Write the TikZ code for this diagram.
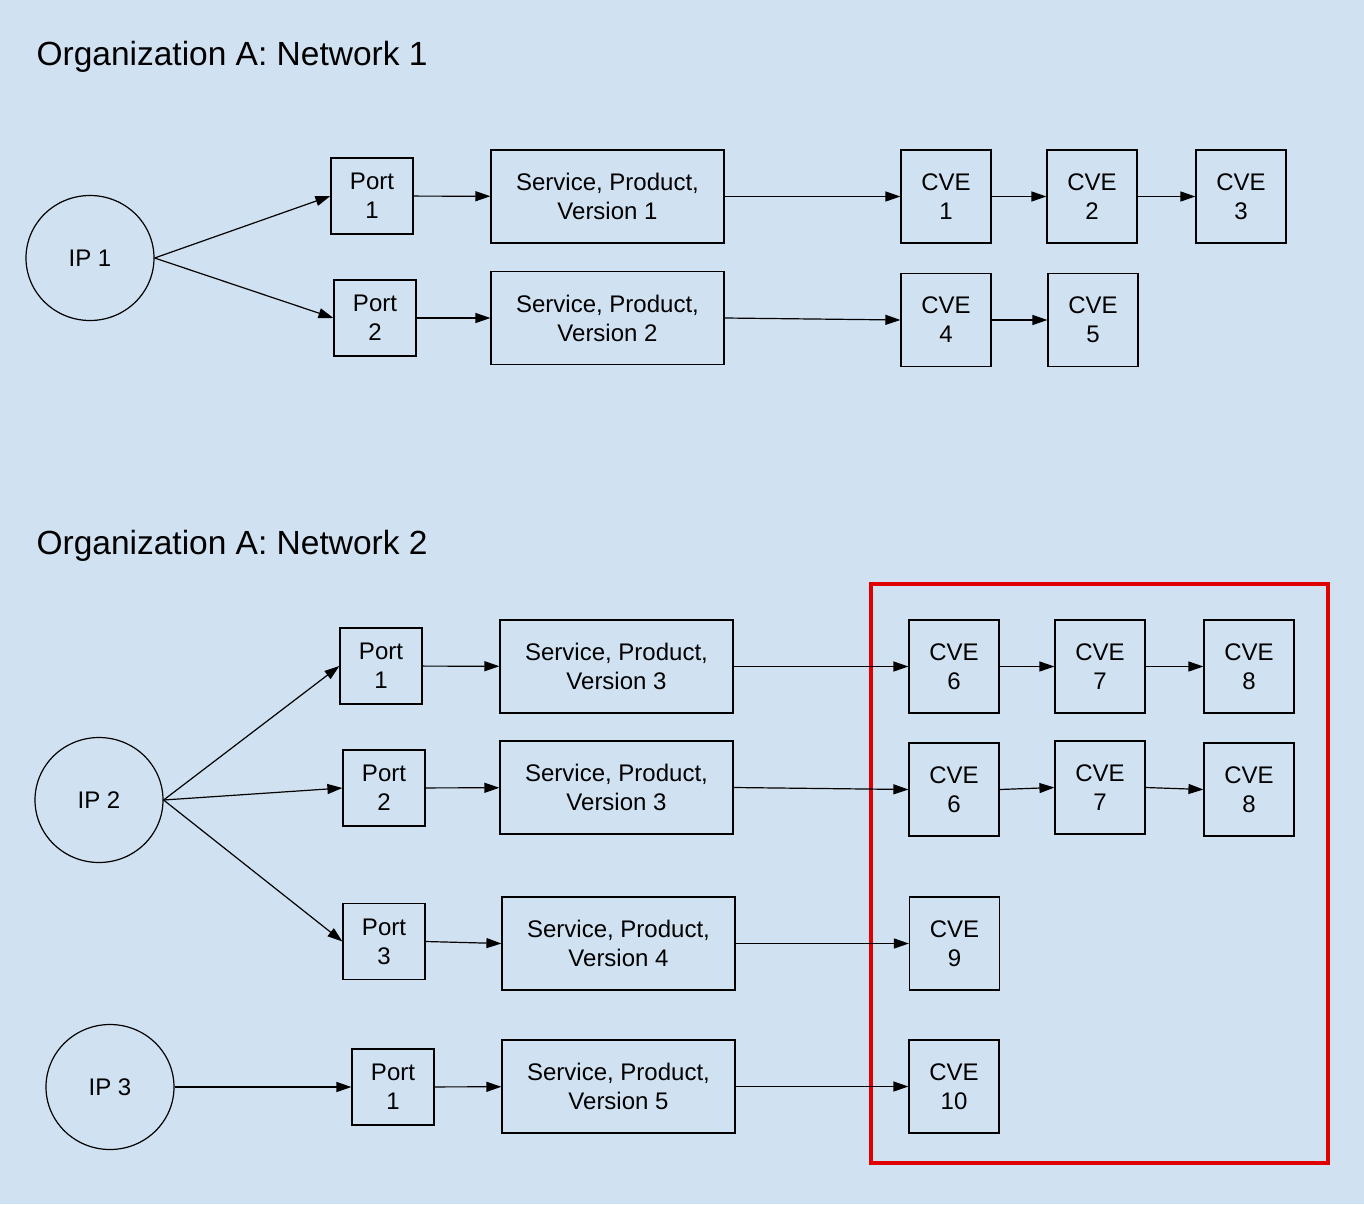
\documentclass[tikz,border=0pt]{standalone}
\usepackage{fontspec}
\setmainfont{Liberation Sans}
\usetikzlibrary{arrows.meta,shapes.geometric}
\definecolor{bg}{HTML}{D0E2F2}
\definecolor{red1}{HTML}{E00000}
\begin{document}
\begin{tikzpicture}[x=1pt,y=-1pt,
  box/.style={draw,line width=1.2pt,minimum width=#1,align=center,inner sep=0pt,font=\fontsize{24}{29}\selectfont},
  port/.style={box=82pt,minimum height=76pt},
  spv/.style={box=233pt,minimum height=93pt},
  cve/.style={box=90pt,minimum height=93pt},
  ip/.style={draw,line width=1.2pt,ellipse,minimum width=128pt,minimum height=125pt,font=\fontsize{24}{29}\selectfont},
  title/.style={anchor=west,font=\fontsize{33.5}{40}\selectfont},
  ar/.style={-{Triangle[length=15pt,width=10pt]},line width=1.2pt}]
\fill[bg] (0,0) rectangle (1364,1204);
\useasboundingbox (0,0) rectangle (1364,1204);
\node[title] (t1) at (33,57) {Organization A: Network 1};
\node[title] (t2) at (33,546) {Organization A: Network 2};
\draw[red1,line width=4pt] (871,584) rectangle (1328,1163);
% network 1
\node[ip] (ip1) at (90,258) {IP 1};
\node[port] (p1) at (372,196) {Port\\1};
\node[spv] (s1) at (607.5,196.5) {Service, Product,\\Version 1};
\node[cve] (c1) at (946,196.5) {CVE\\1};
\node[cve] (c2) at (1092,196.5) {CVE\\2};
\node[cve] (c3) at (1241,196.5) {CVE\\3};
\node[port] (p2) at (375,318) {Port\\2};
\node[spv] (s2) at (607.5,318) {Service, Product,\\Version 2};
\node[cve] (c4) at (946,320) {CVE\\4};
\node[cve] (c5) at (1093,320) {CVE\\5};
\draw[ar] (ip1.east) -- (p1.west);
\draw[ar] (ip1.east) -- (p2.west);
\draw[ar] (p1) -- (s1);
\draw[ar] (s1) -- (c1);
\draw[ar] (c1) -- (c2);
\draw[ar] (c2) -- (c3);
\draw[ar] (p2) -- (s2);
\draw[ar] (s2.east) -- (c4.west);
\draw[ar] (c4) -- (c5);
% network 2
\node[ip] (ip2) at (99,800) {IP 2};
\node[port] (q1) at (381,666) {Port\\1};
\node[spv] (u1) at (616.5,666.5) {Service, Product,\\Version 3};
\node[cve] (d6) at (954,666.5) {CVE\\6};
\node[cve] (d7) at (1100,666.5) {CVE\\7};
\node[cve] (d8) at (1249,666.5) {CVE\\8};
\node[port] (q2) at (384,788) {Port\\2};
\node[spv] (u2) at (616.5,787.5) {Service, Product,\\Version 3};
\node[cve] (e6) at (954,789.5) {CVE\\6};
\node[cve] (e7) at (1100,787.5) {CVE\\7};
\node[cve] (e8) at (1249,789.5) {CVE\\8};
\node[port] (q3) at (384,941.5) {Port\\3};
\node[spv] (u3) at (618.5,943.5) {Service, Product,\\Version 4};
\node[cve] (d9) at (954.5,943.5) {CVE\\9};
\node[ip] (ip3) at (110,1087) {IP 3};
\node[port] (q4) at (393,1087) {Port\\1};
\node[spv] (u4) at (618.5,1086.5) {Service, Product,\\Version 5};
\node[cve] (d10) at (954,1086.5) {CVE\\10};
\draw[ar] (ip2.east) -- (q1.west);
\draw[ar] (ip2.east) -- (q2.west);
\draw[ar] (ip2.east) -- (q3.west);
\draw[ar] (q1) -- (u1);
\draw[ar] (u1) -- (d6);
\draw[ar] (d6) -- (d7);
\draw[ar] (d7) -- (d8);
\draw[ar] (q2) -- (u2);
\draw[ar] (u2.east) -- (e6.west);
\draw[ar] (e6.east) -- (e7.west);
\draw[ar] (e7.east) -- (e8.west);
\draw[ar] (q3.east) -- (u3.west);
\draw[ar] (u3) -- (d9);
\draw[ar] (ip3) -- (q4);
\draw[ar] (q4) -- (u4);
\draw[ar] (u4) -- (d10);
\end{tikzpicture}
\end{document}
